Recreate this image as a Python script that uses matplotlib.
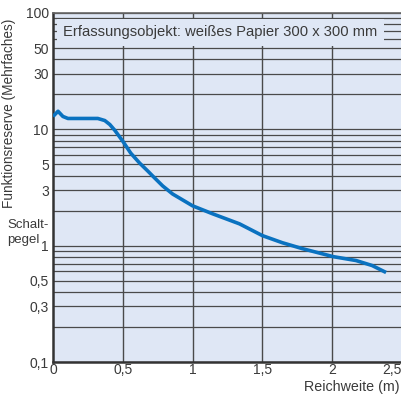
import matplotlib
matplotlib.use('Agg')
import matplotlib.pyplot as plt
from matplotlib.ticker import FixedLocator, NullFormatter

plt.rcParams['font.family'] = ['Liberation Sans', 'DejaVu Sans']

# curve
reach = [0, 0.036, 0.071, 0.107, 0.2, 0.321, 0.371, 0.407, 0.443, 0.5,
         0.557, 0.621, 0.679, 0.714, 0.786, 0.857, 1.0, 1.143, 1.336, 1.5,
         1.643, 1.786, 2.007, 2.171, 2.286, 2.386]
reserve = [12.9, 14.3, 12.9, 12.4, 12.4, 12.4, 11.9, 11.0, 9.8, 7.9,
           6.24, 5.12, 4.38, 3.97, 3.26, 2.78, 2.20, 1.88, 1.54, 1.22,
           1.06, 0.943, 0.805, 0.745, 0.675, 0.588]

xticks = [0, 0.5, 1, 1.5, 2, 2.5]
xlabels = ['0', '0,5', '1', '1,5', '2', '2,5']
yticks = [0.1, 0.3, 0.5, 1, 3, 5, 10, 30, 50, 100]
ylabels = ['0,1', '0,3', '0,5', '1', '3', '5', '10', '30', '50', '100']
ygrid = [k * 10 ** e for e in (-1, 0, 1) for k in range(1, 10)] + [100]

bg = '#dfe7f5'
gridc = '#4a4a4a'
txt = '#3a3a3a'

fig = plt.figure(figsize=(4.02, 4.0), dpi=100)
ax = fig.add_axes([53 / 402, 38 / 400, 349 / 402, 349 / 400])
ax.set_facecolor(bg)
ax.set_yscale('log')
ax.set_xlim(0, 2.5)
ax.set_ylim(0.1, 100)

for v in ygrid:
    ax.axhline(v, color=gridc, lw=0.9, zorder=1)
for v in [0.5, 1, 1.5, 2]:
    ax.axvline(v, color=gridc, lw=1.0, zorder=1)

ax.plot(reach, reserve, color='#0a72c0', lw=2.6, solid_capstyle='butt',
        solid_joinstyle='round', zorder=3)

ax.text(1.2, 68, 'Erfassungsobjekt: weißes Papier 300 x 300 mm',
        ha='center', va='center', fontsize=10.6, color=txt, zorder=2,
        bbox=dict(facecolor=bg, edgecolor='none', pad=4.5))

ax.xaxis.set_major_locator(FixedLocator(xticks))
ax.set_xticklabels(xlabels)
ax.yaxis.set_major_locator(FixedLocator(yticks))
ax.yaxis.set_minor_formatter(NullFormatter())
ax.yaxis.set_minor_locator(FixedLocator([]))
ax.set_yticklabels(ylabels)
ax.tick_params(length=0, labelsize=10, labelcolor=txt)
ax.tick_params(axis='x', pad=1)
ax.tick_params(axis='y', pad=3)
ax.get_xticklabels()[-1].set_horizontalalignment('right')

for s in ['left', 'bottom']:
    ax.spines[s].set_color('#333333')
    ax.spines[s].set_linewidth(1.8)
ax.spines['top'].set_color('#666666')
ax.spines['top'].set_linewidth(1.2)
ax.spines['right'].set_visible(False)

fig.text(400 / 402, 1 - 387 / 400, 'Reichweite (m)', ha='right', va='center',
         fontsize=10.3, color=txt)
fig.text(9 / 402, 1 - 113 / 400, 'Funktionsreserve (Mehrfaches)', rotation=90,
         ha='center', va='center', fontsize=9.8, color=txt)
fig.text(7 / 402, 1 - 225 / 400, 'Schalt-', ha='left', va='center',
         fontsize=9.5, color=txt)
fig.text(7 / 402, 1 - 240 / 400, 'pegel', ha='left', va='center',
         fontsize=9.5, color=txt)

fig.savefig('out.png', dpi=100)
